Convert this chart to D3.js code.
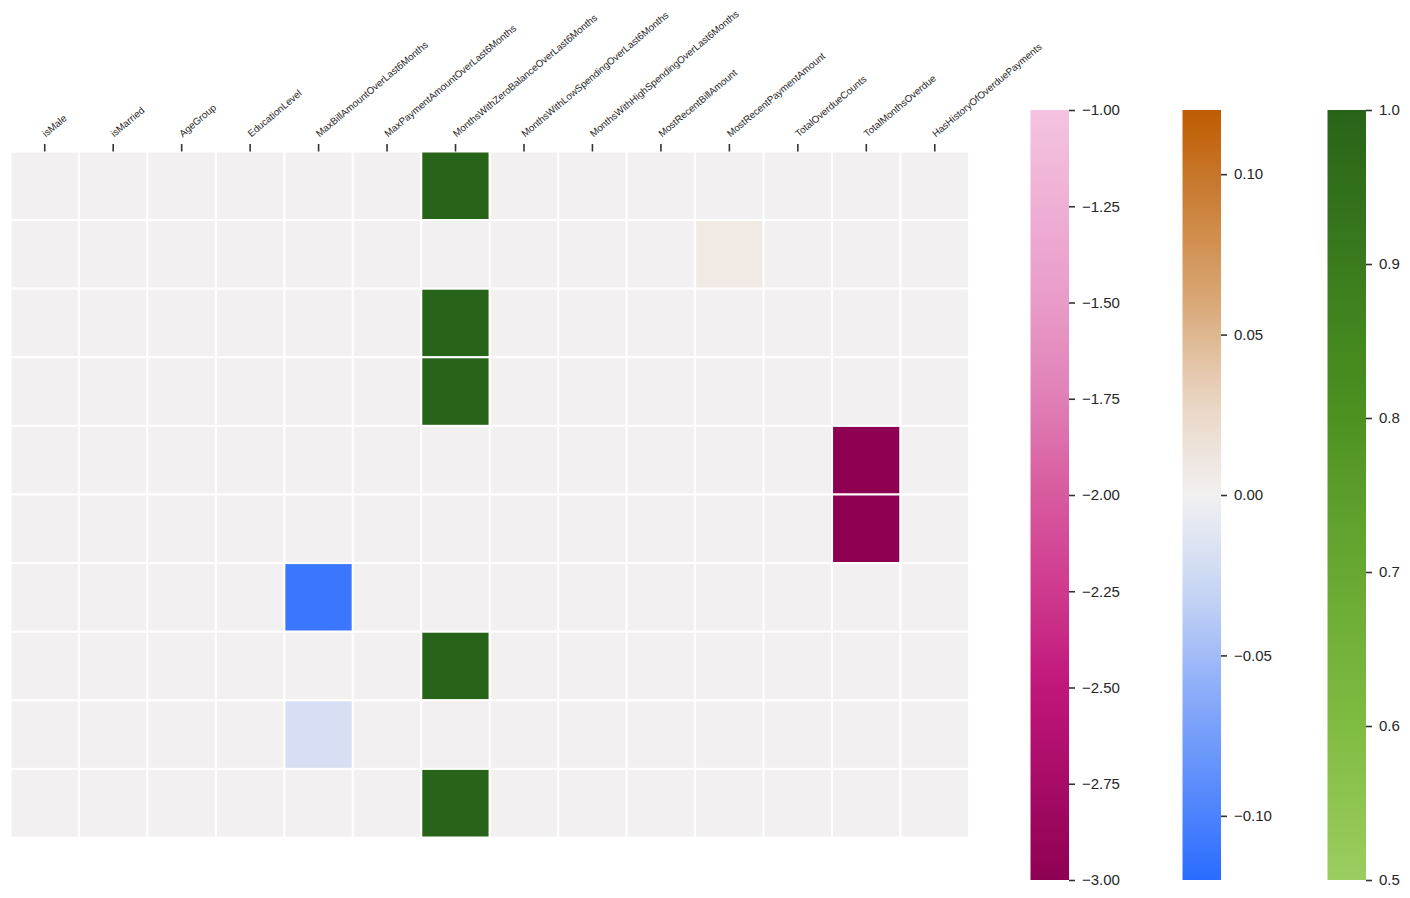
<!DOCTYPE html>
<html>
<head>
<meta charset="utf-8">
<script src="https://cdn.jsdelivr.net/npm/d3@7"></script>
<style>
  body { margin: 0; background: #fff; }
  text { font-family: Arial, "Liberation Sans", sans-serif; fill: #262626; }
</style>
</head>
<body>
<script>
// column names of the heatmap
const columns = [
  "isMale", "isMarried", "AgeGroup", "EducationLevel",
  "MaxBillAmountOverLast6Months", "MaxPaymentAmountOverLast6Months",
  "MonthsWithZeroBalanceOverLast6Months", "MonthsWithLowSpendingOverLast6Months",
  "MonthsWithHighSpendingOverLast6Months", "MostRecentBillAmount",
  "MostRecentPaymentAmount", "TotalOverdueCounts", "TotalMonthsOverdue",
  "HasHistoryOfOverduePayments"
];

// one row per sample
const row0 = [0, 0, 0, 0, 0, 0, 1, 0, 0, 0, 0, 0, 0, 0];
const row1 = [0, 0, 0, 0, 0, 0, 0, 0, 0, 0, 0.008, 0, 0, 0];
const row2 = [0, 0, 0, 0, 0, 0, 1, 0, 0, 0, 0, 0, 0, 0];
const row3 = [0, 0, 0, 0, 0, 0, 1, 0, 0, 0, 0, 0, 0, 0];
const row4 = [0, 0, 0, 0, 0, 0, 0, 0, 0, 0, 0, 0, -3, 0];
const row5 = [0, 0, 0, 0, 0, 0, 0, 0, 0, 0, 0, 0, -3, 0];
const row6 = [0, 0, 0, 0, -0.11, 0, 0, 0, 0, 0, 0, 0, 0, 0];
const row7 = [0, 0, 0, 0, 0, 0, 1, 0, 0, 0, 0, 0, 0, 0];
const row8 = [0, 0, 0, 0, -0.02, 0, 0, 0, 0, 0, 0, 0, 0, 0];
const row9 = [0, 0, 0, 0, 0, 0, 1, 0, 0, 0, 0, 0, 0, 0];
const rows = [row0, row1, row2, row3, row4, row5, row6, row7, row8, row9];

// colorbar ticks
const pinkTicks = [-1, -1.25, -1.5, -1.75, -2, -2.25, -2.5, -2.75, -3];
const divTicks = [-0.1, -0.05, 0, 0.05, 0.1];
const greenTicks = [0.5, 0.6, 0.7, 0.8, 0.9, 1.0];

const W = 1410, H = 898;
const svg = d3.select("body").append("svg")
    .attr("width", W)
    .attr("height", H);

// color maps
const pinkScale = d3.scaleLinear()
    .domain([-3, -2.5, -2.25, -2, -1.75, -1.5, -1])
    .range(["#8e0152", "#c0167a", "#cf3a8e", "#d75a9f", "#e07fb6", "#e99bc9", "#f4c3e1"])
    .interpolate(d3.interpolateRgb);
const divScale = d3.scaleLinear()
    .domain([-0.12, -0.06, -0.03, 0, 0.03, 0.06, 0.12])
    .range(["#2a6cff", "#8eaef9", "#c8d6f4", "#f2f0f1", "#e9d4c1", "#d9a877", "#bf5c00"])
    .interpolate(d3.interpolateRgb);
const greenScale = d3.scaleLinear()
    .domain([0.5, 0.6, 0.7, 0.8, 0.9, 1.0])
    .range(["#9bcd60", "#80bb41", "#68a832", "#4d9221", "#3a7b1d", "#276419"])
    .interpolate(d3.interpolateRgb);

function cellColor(v) {
    if (v <= -1) return pinkScale(v);
    if (v >= 0.5) return greenScale(v);
    return divScale(v);
}

// heatmap
const x = d3.scaleBand()
    .domain(d3.range(columns.length))
    .range([10.5, 969]);
const y = d3.scaleBand()
    .domain(d3.range(rows.length))
    .range([151.5, 837.5]);

const g = svg.append("g");
rows.forEach((r, i) => {
    g.selectAll(".c" + i)
        .data(r)
        .enter().append("rect")
        .attr("class", "c" + i)
        .attr("x", (d, j) => x(j))
        .attr("y", y(i))
        .attr("width", x.bandwidth())
        .attr("height", y.bandwidth())
        .attr("fill", d => cellColor(d))
        .attr("stroke", "#fff")
        .attr("stroke-width", 2);
});

// top axis ticks and rotated labels
const topAxis = svg.append("g");
topAxis.selectAll("line")
    .data(columns)
    .enter().append("line")
    .attr("x1", (d, j) => x(j) + x.bandwidth() / 2)
    .attr("x2", (d, j) => x(j) + x.bandwidth() / 2)
    .attr("y1", 144)
    .attr("y2", 151.5)
    .attr("stroke", "#333")
    .attr("stroke-width", 1.6);
topAxis.selectAll("text")
    .data(columns)
    .enter().append("text")
    .attr("transform", (d, j) => `translate(${x(j) + x.bandwidth() / 2 + 1},137.5) rotate(-40)`)
    .attr("font-size", "9.8px")
    .attr("text-anchor", "start")
    .text(d => d);

// colorbars
function colorbar(x0, domain, scale, ticks, fmt, id) {
    const cy = d3.scaleLinear().domain(domain).range([880, 110]);
    const defs = svg.append("defs");
    const grad = defs.append("linearGradient")
        .attr("id", id)
        .attr("x1", 0).attr("y1", 1).attr("x2", 0).attr("y2", 0);
    d3.range(0, 1.0001, 0.05).forEach(t => {
        grad.append("stop")
            .attr("offset", t)
            .attr("stop-color", scale(domain[0] + t * (domain[1] - domain[0])));
    });
    svg.append("rect")
        .attr("x", x0)
        .attr("y", 110)
        .attr("width", 38.5)
        .attr("height", 770)
        .attr("fill", `url(#${id})`);
    const axis = svg.append("g")
        .attr("transform", `translate(${x0 + 38.5},0)`)
        .call(d3.axisRight(cy).tickValues(ticks).tickFormat(fmt).tickSize(6).tickPadding(7));
    axis.select(".domain").remove();
    axis.selectAll(".tick line").attr("stroke", "#333").attr("stroke-width", 1.6);
    axis.selectAll(".tick text")
        .attr("font-size", "15px")
        .attr("font-family", "Arial, 'Liberation Sans', sans-serif")
        .attr("fill", "#262626");
}

const minus = f => v => f(v).replace("-", "\u2212");
colorbar(1030.5, [-3, -1], pinkScale, pinkTicks, minus(d3.format(".2f")), "gPink");
colorbar(1182.5, [-0.12, 0.12], divScale, divTicks, minus(d3.format(".2f")), "gDiv");
colorbar(1327.5, [0.5, 1.0], greenScale, greenTicks, d3.format(".1f"), "gGreen");
</script>
</body>
</html>
